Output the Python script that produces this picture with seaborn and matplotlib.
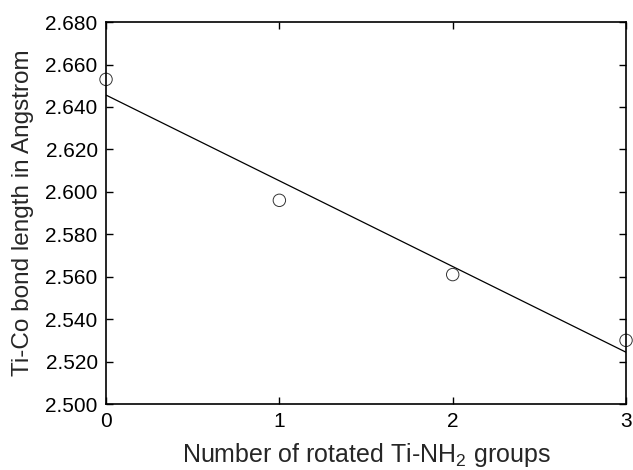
import matplotlib
matplotlib.use("Agg")
import matplotlib.pyplot as plt
import numpy as np
import pandas as pd
import seaborn as sns

ROTATED_GROUPS = [0, 1, 2, 3]
BOND_LENGTH = [2.653, 2.596, 2.561, 2.530]

Y_TICKS = np.round(np.arange(2.500, 2.6801, 0.020), 3)
X_TICKS = [0, 1, 2, 3]


def main() -> None:
    sns.set_style("ticks")
    plt.rcParams["font.family"] = ["Liberation Sans", "DejaVu Sans"]
    plt.rcParams["mathtext.fontset"] = "custom"
    plt.rcParams["mathtext.rm"] = "Liberation Sans"
    plt.rcParams["mathtext.it"] = "Liberation Sans"

    df = pd.DataFrame({"groups": ROTATED_GROUPS, "length": BOND_LENGTH})

    fig = plt.figure(figsize=(6.33, 4.70), dpi=100)
    ax = fig.add_axes([0.1675, 0.1404, 0.8215, 0.8126])

    sns.regplot(
        data=df,
        x="groups",
        y="length",
        ci=None,
        ax=ax,
        marker="o",
        scatter_kws={
            "s": 80,
            "facecolors": "none",
            "edgecolors": "black",
            "linewidths": 0.7,
            "clip_on": False,
            "zorder": 3,
        },
        line_kws={"color": "black", "linewidth": 0.9},
    )

    ax.set_xlim(0, 3)
    ax.set_ylim(2.500, 2.680)
    ax.set_xticks(X_TICKS)
    ax.set_yticks(Y_TICKS)
    ax.set_yticklabels([f"{v:.3f}" for v in Y_TICKS])

    ax.tick_params(
        direction="in", top=True, right=True, length=5, width=1,
        labelsize=15, colors="black", pad=6,
    )
    for spine in ax.spines.values():
        spine.set_linewidth(1.2)
        spine.set_color("black")

    ax.set_xlabel("Number of rotated Ti-NH$_2$ groups", fontsize=18, labelpad=7)
    ax.set_ylabel("Ti-Co bond length in Angstrom", fontsize=17.5, labelpad=8)

    fig.savefig("out.png", dpi=100)
    plt.close(fig)


if __name__ == "__main__":
    main()
